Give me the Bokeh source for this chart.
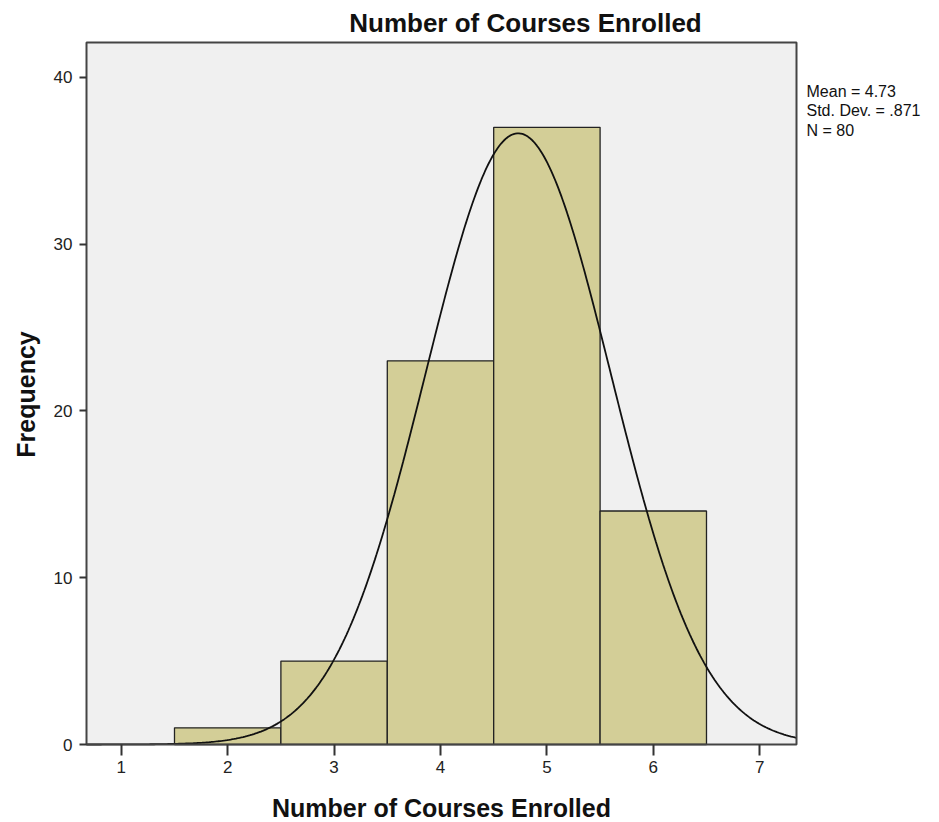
import math
import numpy as np
from bokeh.plotting import figure
from bokeh.models import Range1d, Label, FixedTicker
from bokeh.embed import file_html
from bokeh.resources import INLINE

# ---- data ----
bin_centers = [2, 3, 4, 5, 6]
frequencies = [1, 5, 23, 37, 14]
bin_width = 1.0
MEAN = 4.73
STD = 0.871
N = 80
x_ticks = [1, 2, 3, 4, 5, 6, 7]
y_ticks = [0, 10, 20, 30, 40]
title_text = "Number of Courses Enrolled"
x_label = "Number of Courses Enrolled"
y_label = "Frequency"
stats_text = "Mean = 4.73\nStd. Dev. = .871\nN = 80"

FONT = "Liberation Sans"

# plot box (data extent of the SPSS chart area)
box_x0, box_x1 = 0.673, 7.346
box_y0, box_y1 = 0.0, 42.09

PX_X = 106.4   # pixels per x unit
PX_Y = 16.68   # pixels per y unit
BOX_LEFT_PX, BOX_BOTTOM_PX = 86, 744

W, H = 935, 820


def dx(px):
    return box_x0 + (px - BOX_LEFT_PX) / PX_X


def dy(px):
    return (BOX_BOTTOM_PX - px) / PX_Y


p = figure(width=W, height=H, output_backend="svg", toolbar_location=None,
           x_range=Range1d(dx(0), dx(W)), y_range=Range1d(dy(H), dy(0)),
           min_border_left=0, min_border_right=0, min_border_top=0,
           min_border_bottom=0)

p.border_fill_color = "white"
p.background_fill_color = "white"
p.outline_line_color = None
p.grid.visible = False

# chart area background
p.quad(left=[box_x0], right=[box_x1], bottom=[box_y0], top=[box_y1],
       fill_color="#F0F0F0", line_color=None)

# bars
lefts = [c - bin_width / 2 for c in bin_centers]
rights = [c + bin_width / 2 for c in bin_centers]
p.quad(left=lefts, right=rights, bottom=0, top=frequencies,
       fill_color="#D3CE97", line_color="#222222", line_width=1.3)

# normal curve from the reported statistics
xs = np.linspace(box_x0, box_x1, 400)
ys = N * bin_width * np.exp(-0.5 * ((xs - MEAN) / STD) ** 2) / (STD * np.sqrt(2 * np.pi))
p.line(xs, ys, line_color="#111111", line_width=1.8)

# chart area border
p.quad(left=[box_x0], right=[box_x1], bottom=[box_y0], top=[box_y1],
       fill_color=None, line_color="#444444", line_width=2)

# axes, pinned to the chart box edges
p.xaxis.fixed_location = box_y0
p.yaxis.fixed_location = box_x0
p.xaxis.ticker = FixedTicker(ticks=x_ticks)
p.yaxis.ticker = FixedTicker(ticks=y_ticks)
for ax in (p.xaxis, p.yaxis):
    ax.minor_tick_line_color = None
    ax.axis_line_color = None
    ax.major_tick_in = 0
    ax.major_tick_line_color = "#333333"
    ax.major_tick_line_width = 2
    ax.major_label_text_font = FONT
    ax.major_label_text_font_size = "17px"
    ax.major_label_text_color = "#222222"
p.xaxis.major_tick_out = 11
p.yaxis.major_tick_out = 7
p.xaxis.major_label_standoff = 5
p.yaxis.major_label_standoff = 7

# title
p.add_layout(Label(x=dx(525), y=dy(22), text=title_text,
                   text_align="center", text_baseline="middle",
                   text_font=FONT, text_font_style="bold",
                   text_font_size="26px", text_color="#111111"))

# x axis title
p.add_layout(Label(x=dx(441), y=dy(807), text=x_label,
                   text_align="center", text_baseline="middle",
                   text_font=FONT, text_font_style="bold",
                   text_font_size="25px", text_color="#111111"))

# y axis title
p.add_layout(Label(x=dx(25), y=dy(394), text=y_label, angle=math.pi / 2,
                   text_align="center", text_baseline="middle",
                   text_font=FONT, text_font_style="bold",
                   text_font_size="25px", text_color="#111111"))

# stats text
p.add_layout(Label(x=dx(806), y=dy(82), text=stats_text,
                   text_align="left", text_baseline="top",
                   text_font=FONT, text_font_size="16px",
                   text_color="#111111", text_line_height=1.15))

open("out.html", "w").write(file_html(p, INLINE))
